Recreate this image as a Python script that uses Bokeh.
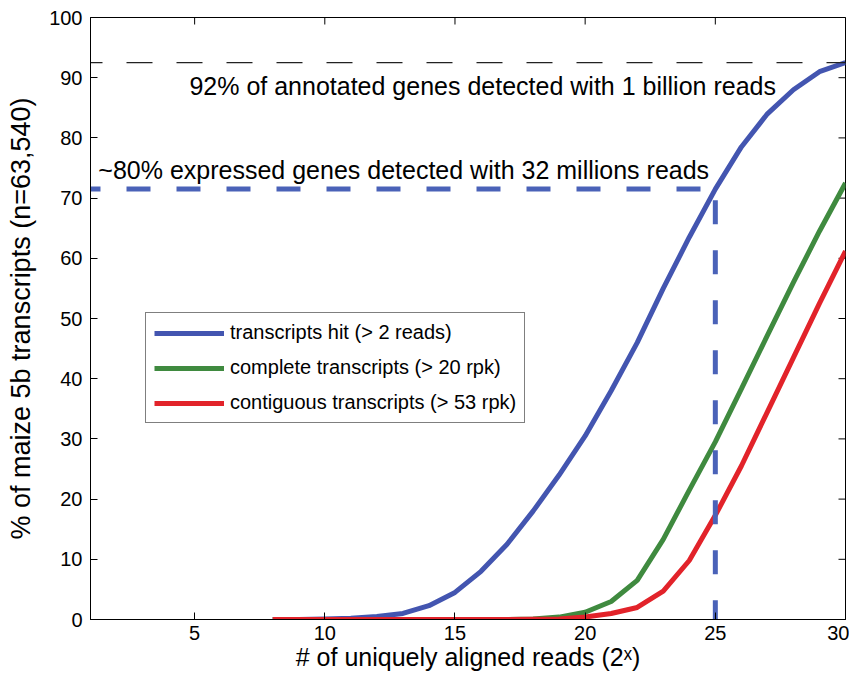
import math
from bokeh.plotting import figure
from bokeh.models import Range1d, Label, FixedTicker
from bokeh.embed import file_html
from bokeh.resources import INLINE

# ---- data ----
reads_exp = list(range(8, 31))
hit = [0, 0, 0.1, 0.2, 0.5, 1.0, 2.3, 4.5, 8, 12.5, 18, 24, 30.5, 38, 46, 55,
       63.5, 71.5, 78.5, 84, 88, 91, 92.5]
complete = [0, 0, 0, 0, 0, 0, 0, 0, 0, 0, 0.1, 0.4, 1.2, 3, 6.5, 13.3, 21.5,
            29.5, 38.3, 47.2, 56, 64.5, 72.5]
contiguous = [0, 0, 0, 0, 0, 0, 0, 0, 0, 0, 0.05, 0.1, 0.4, 1, 2, 4.7, 9.8,
              17.3, 25.5, 34.5, 43.5, 52.5, 61.2]
series_names = ["transcripts hit (> 2 reads)", "complete transcripts (> 20 rpk)",
                "contiguous transcripts (> 53 rpk)"]
annotated_level = 92.5
expressed_level = 71.5
expressed_x = 25
x_min, x_max = 1, 30
y_min, y_max = 0, 100
x_ticks = [5, 10, 15, 20, 25, 30]
y_ticks = [0, 10, 20, 30, 40, 50, 60, 70, 80, 90, 100]
x_title = "# of uniquely aligned reads (2ˣ)"
y_title = "% of maize 5b transcripts (n=63,540)"

BLUE = "#4355b0"
DBLUE = "#4a62b8"
GREEN = "#3f8a3f"
RED = "#e2232a"
FONT = "Liberation Sans"

p = figure(width=849, height=673, output_backend="svg", toolbar_location=None,
           x_range=Range1d(x_min, x_max), y_range=Range1d(y_min, y_max),
           min_border_left=90, min_border_top=17, min_border_right=4,
           min_border_bottom=53)
p.xgrid.visible = False
p.ygrid.visible = False
p.outline_line_color = "black"
p.outline_line_width = 1
p.background_fill_color = "white"
p.border_fill_color = "white"

for ax, ticks in ((p.xaxis[0], x_ticks), (p.yaxis[0], y_ticks)):
    ax.ticker = FixedTicker(ticks=ticks)
    ax.major_tick_in = 7
    ax.major_tick_out = 0
    ax.minor_tick_line_color = None
    ax.axis_line_color = "black"
    ax.major_tick_line_color = "black"
    ax.major_label_text_font = FONT
    ax.major_label_text_font_size = "20px"
    ax.major_label_text_color = "black"
    ax.axis_label_text_font = FONT
    ax.axis_label_text_font_style = "normal"
    ax.axis_label_text_color = "black"

p.xaxis[0].axis_label = x_title
p.xaxis[0].axis_label_text_font_size = "25px"
p.xaxis[0].major_label_standoff = 6
p.xaxis[0].axis_label_standoff = 0
p.yaxis[0].axis_label = y_title
p.yaxis[0].axis_label_text_font_size = "27px"
p.yaxis[0].major_label_standoff = 8
p.yaxis[0].axis_label_standoff = 10

# mirrored inward ticks on the top and right frame edges
p.scatter(x_ticks, [y_max] * len(x_ticks), marker="dash", angle=math.pi / 2,
          size=14, line_color="black", line_width=1)
p.scatter([x_max] * len(y_ticks), y_ticks, marker="dash", size=14,
          line_color="black", line_width=1)

# curves
p.line(reads_exp, hit, line_color=BLUE, line_width=5, legend_label=series_names[0])
p.line(reads_exp, complete, line_color=GREEN, line_width=5, legend_label=series_names[1])
p.line(reads_exp, contiguous, line_color=RED, line_width=5, legend_label=series_names[2])

# reference dashed lines
p.line([x_min, x_max], [annotated_level, annotated_level], line_color="#222222",
       line_width=1.3, line_dash="26 24", line_dash_offset=14)
p.line([x_min, expressed_x, expressed_x], [expressed_level, expressed_level, y_min],
       line_color=DBLUE, line_width=5, line_dash="24 26", line_dash_offset=14)

# annotations
p.add_layout(Label(x=4.8, y=88.6, text="92% of annotated genes detected with 1 billion reads",
                   text_font=FONT, text_font_size="25px", text_baseline="middle",
                   text_color="black"))
p.add_layout(Label(x=1.3, y=74.6, text="~80% expressed genes detected with 32 millions reads",
                   text_font=FONT, text_font_size="25px", text_baseline="middle",
                   text_color="black"))

# legend
lg = p.legend[0]
lg.location = (55, 196)
lg.label_text_font = FONT
lg.label_text_font_size = "20px"
lg.label_text_color = "black"
lg.glyph_width = 70
lg.glyph_height = 20
lg.label_height = 20
lg.spacing = 12
lg.padding = 8
lg.margin = 0
lg.label_standoff = 6
lg.border_line_color = "black"
lg.border_line_width = 1
lg.background_fill_alpha = 1

open("out.html", "w").write(file_html(p, INLINE))
